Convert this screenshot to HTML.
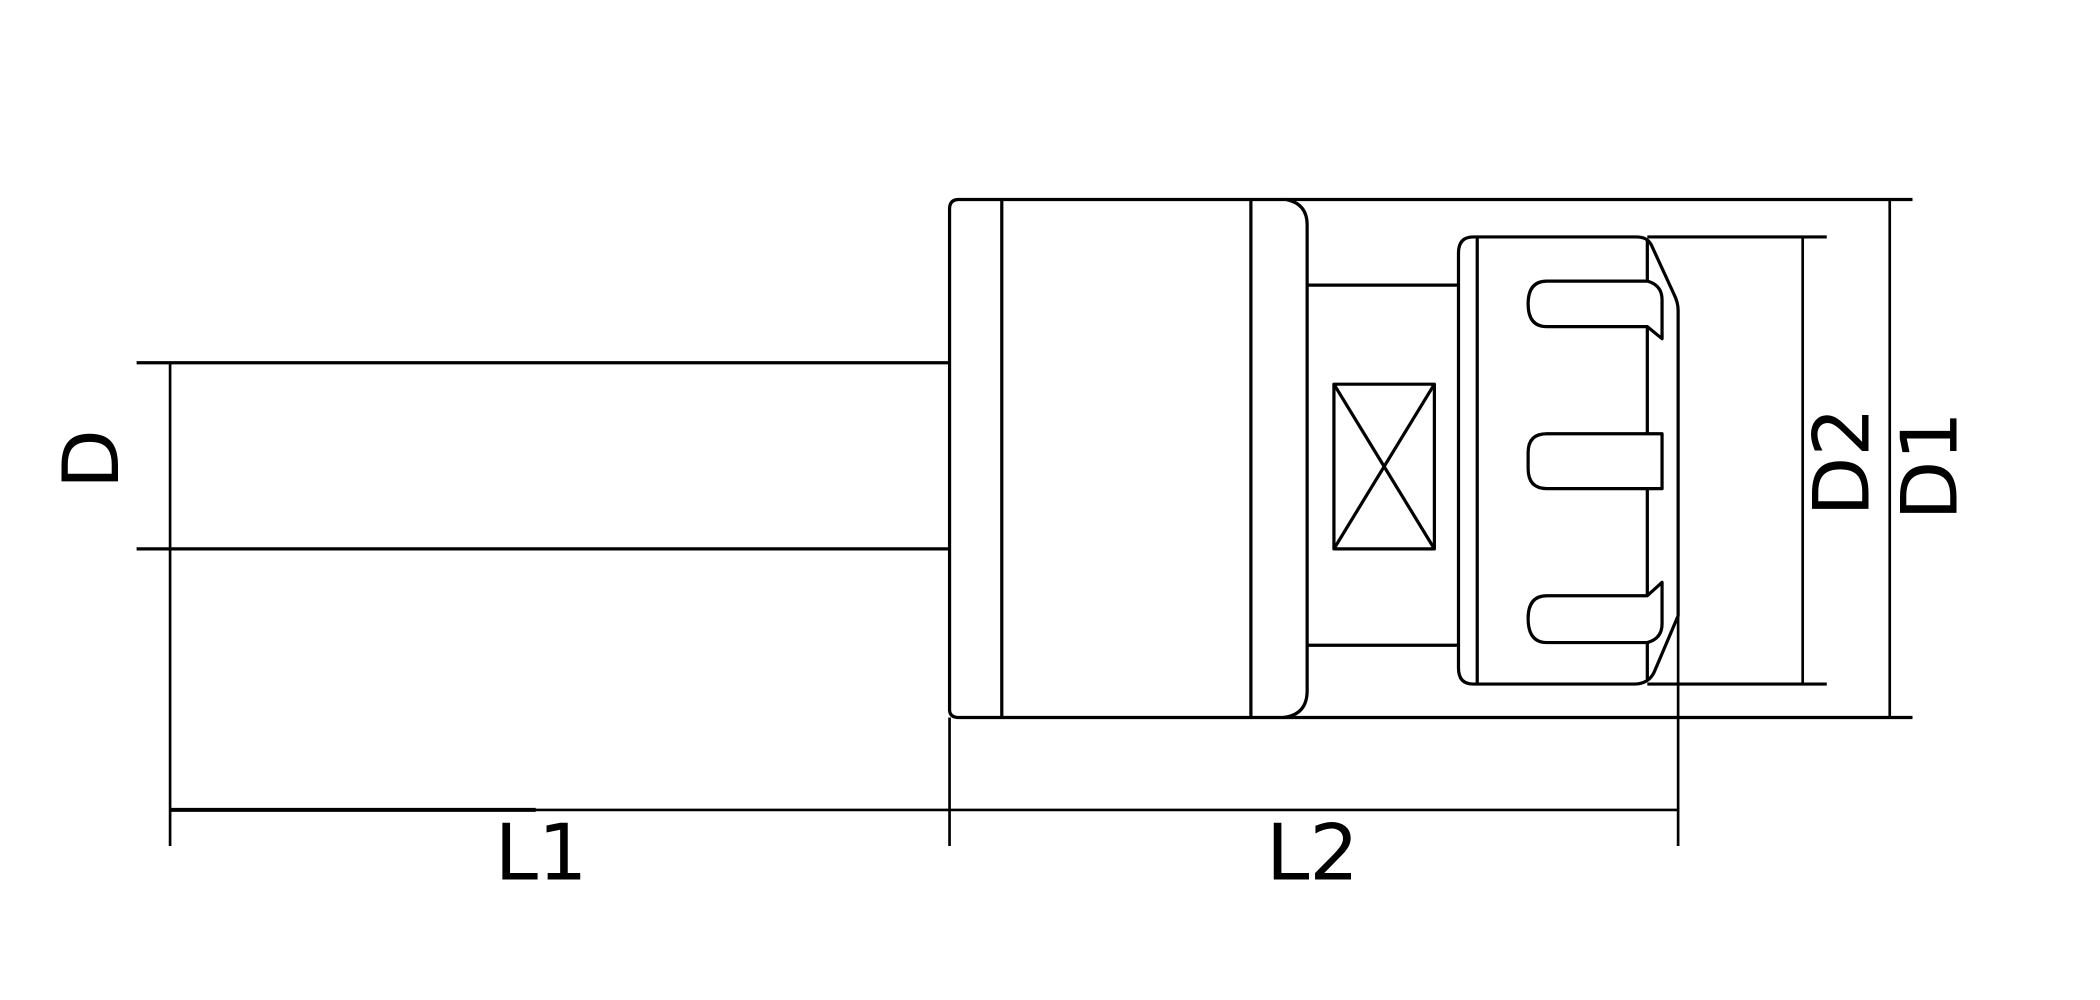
<!DOCTYPE html>
<html><head><meta charset="utf-8"><style>
html,body{margin:0;padding:0;background:#fff;}
svg{display:block}
text{font-family:"DejaVu Sans","Liberation Sans",sans-serif;fill:#000}
</style></head><body>
<svg width="2100" height="1000" viewBox="0 0 1568 747" preserveAspectRatio="none" xmlns="http://www.w3.org/2000/svg">
<g fill="none" stroke="#000" stroke-width="2.4" stroke-linejoin="round">
<line x1="102" y1="271" x2="709" y2="271"/>
<line x1="102" y1="410" x2="709" y2="410"/>
<line x1="127" y1="271" x2="127" y2="632" stroke-width="2"/>
<line x1="127" y1="605" x2="1253" y2="605" stroke-width="2"/>
<line x1="127" y1="605" x2="400" y2="605" stroke-width="3"/>
<line x1="709" y1="536" x2="709" y2="632" stroke-width="2"/>
<line x1="1253" y1="460" x2="1253" y2="632" stroke-width="2"/>
<path d="M716,149 H960 Q976,152 976,168 V516 Q976,534 958,536 H716 Q709,536 709,530 V156 Q709,149 716,149 Z"/>
<line x1="748" y1="149" x2="748" y2="536"/>
<line x1="934" y1="149" x2="934" y2="536"/>
<line x1="960" y1="149" x2="1428" y2="149"/>
<line x1="958" y1="536" x2="1428" y2="536"/>
<line x1="976" y1="213" x2="1089" y2="213"/>
<line x1="976" y1="482" x2="1089" y2="482"/>
<rect x="996" y="287" width="75" height="123"/>
<line x1="996" y1="287" x2="1071" y2="410"/>
<line x1="1071" y1="287" x2="996" y2="410"/>
<path d="M1100,177 H1222 Q1230,177 1233,183 L1250,220 Q1253,226 1253,232 V460 L1236,500 Q1232,511 1220,511 H1100 Q1089,511 1089,499 V189 Q1089,177 1100,177 Z"/>
<line x1="1103" y1="177" x2="1103" y2="511"/>
<line x1="1230" y1="180" x2="1230" y2="210"/>
<line x1="1230" y1="244" x2="1230" y2="324"/>
<line x1="1230" y1="365" x2="1230" y2="445"/>
<line x1="1230" y1="480" x2="1230" y2="508"/>
<line x1="1230" y1="177" x2="1364" y2="177"/>
<line x1="1230" y1="511" x2="1364" y2="511"/>
<path d="M1230,210 H1155 Q1141,210 1141,227 Q1141,244 1155,244 H1230 L1241,253 V224 Q1241,213 1230,210"/>
<path d="M1241,324 H1155 Q1141,324 1141,338 V350 Q1141,365 1155,365 H1241 Z"/>
<path d="M1230,480 H1155 Q1141,480 1141,462 Q1141,445 1155,445 H1230 L1241,435 V466 Q1241,477 1230,480"/>
<line x1="1346" y1="177" x2="1346" y2="511" stroke-width="2"/>
<line x1="1411" y1="149" x2="1411" y2="536" stroke-width="2"/>
</g>
<text x="404" y="657" font-size="58" text-anchor="middle">L1</text>
<text x="980" y="657" font-size="58" text-anchor="middle">L2</text>
<text transform="translate(88,343) rotate(-90)" font-size="58" text-anchor="middle">D</text>
<text transform="translate(1395,345) rotate(-90)" font-size="58" text-anchor="middle">D2</text>
<text transform="translate(1461,348) rotate(-90)" font-size="58" text-anchor="middle">D1</text>
</svg>
</body></html>
